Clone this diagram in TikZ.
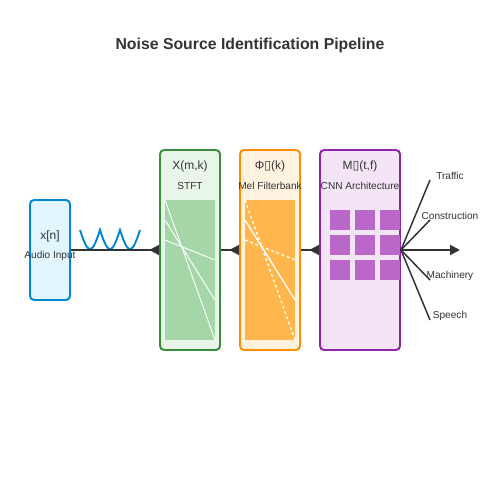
\documentclass[tikz,border=0pt]{standalone}
\usepackage{fontspec}
\setmainfont{Liberation Sans}
\newfontfamily\tofufont{DejaVu Sans}
\usetikzlibrary{arrows.meta}
\definecolor{ink}{HTML}{333333}
\definecolor{inblue}{HTML}{0288D1}
\definecolor{inblueb}{HTML}{E1F5FE}
\definecolor{stgreen}{HTML}{388E3C}
\definecolor{stgreenb}{HTML}{E8F5E9}
\definecolor{stgreenf}{HTML}{A5D6A7}
\definecolor{melor}{HTML}{FF8F00}
\definecolor{melorb}{HTML}{FFF3E0}
\definecolor{melorf}{HTML}{FFB74D}
\definecolor{cnnvi}{HTML}{8E24AA}
\definecolor{cnnvib}{HTML}{F3E5F5}
\definecolor{cnnvif}{HTML}{BA68C8}
\newcommand\tofu{{\tofufont\fontsize{7}{8}\selectfont▯}}
\tikzset{stage/.style n args={3}{draw=#1,fill=#2,line width=1.1pt,rounded corners=2.3pt,
  minimum width=#3*0.02cm,minimum height=4cm,inner sep=0pt},
  sym/.style={text=ink,font=\fontsize{6.8}{8}\selectfont,inner sep=0pt},
  sub/.style={text=ink,font=\fontsize{5.75}{7}\selectfont,inner sep=0pt},
  flow/.style={draw=ink,line width=1.1pt,-{Triangle[reversed,length=5.6pt,width=5.6pt]}},
  branch/.style={draw=ink,line width=0.85pt},
  trace/.style={white,line width=0.55pt},
}

\begin{document}
\begin{tikzpicture}[x=0.02cm,y=-0.02cm]
  \useasboundingbox (0,0) rectangle (500,500);
  \node[text=ink,font=\bfseries\fontsize{9}{11}\selectfont] (title) at (250,45) {Noise Source Identification Pipeline};
  % stages
  \node[stage={inblue}{inblueb}{40},minimum height=2cm] (input) at (50,250) {};
  \node[stage={stgreen}{stgreenb}{60}] (stft) at (190,250) {};
  \node[stage={melor}{melorb}{60}] (mel) at (270,250) {};
  \node[stage={cnnvi}{cnnvib}{80}] (cnn) at (360,250) {};
  \node[sym] at (50,236) {x[n]};
  \node[sub] at (50,256) {Audio Input};
  \node[sym] at (190,166) {X(m,k)};
  \node[sub] at (190,186) {STFT};
  \node[sym] at (270,166) {Φ\tofu(k)};
  \node[sub] at (270,186) {Mel Filterbank};
  \node[sym] at (360,166) {M\tofu(t,f)};
  \node[sub] at (360,186) {CNN Architecture};
  % spectrogram and filterbank
  \fill[stgreenf] (165,200) rectangle (215,340);
  \fill[melorf] (245,200) rectangle (295,340);
  \draw[trace] (165,200) -- (215,340) (165,220) -- (215,300) (165,240) -- (215,260);
  \draw[trace,line width=0.75pt,dash pattern=on 1.6pt off 1.6pt] (245,200) -- (295,340) (245,240) -- (295,260);
  \draw[trace,line width=0.75pt] (245,220) -- (295,300);
  % conv kernels
  \foreach \i in {0,1,2}
    \foreach \j in {0,1,2}
      {\fill[cnnvif] (330+25*\i,210+25*\j) rectangle ++(20,20);}
  % signal
  \draw[inblue,line width=1.1pt] plot[domain=80:140,samples=121] (\x,{230+19*abs(sin((\x-80)*9))});
  \draw[flow] (input.east) -- (stft.west);
  \draw[flow] (stft.east) -- (mel.west);
  \draw[flow] (mel.east) -- (cnn.west);
  % classes
  \coordinate (out) at (460,250);
  \draw[branch,line width=1.1pt,-{Triangle[length=5.6pt,width=5.6pt]}] (cnn.east) -- (out);
  \foreach \name/\y in {Traffic/180,Construction/220,Machinery/280,Speech/320}
  {\coordinate (c\name) at (430,\y);
   \node[sub] (l\name) at (450,\y-4) {\name};
   \draw[branch] (cnn.east) -- (c\name);}
\end{tikzpicture}
\end{document}
